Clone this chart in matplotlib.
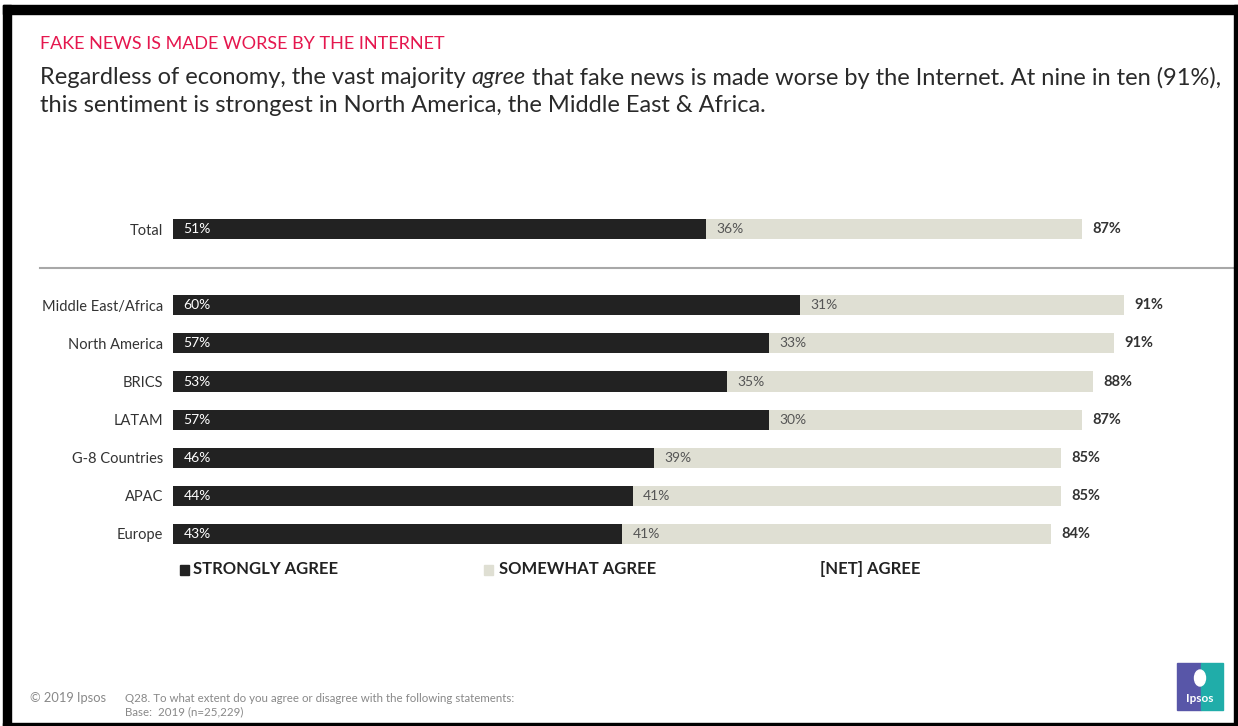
import matplotlib
matplotlib.use("Agg")
import matplotlib.pyplot as plt
import matplotlib.patches as patches
import matplotlib.transforms as mtransforms

W, H = 1238, 726

# survey results (% of respondents)
regions = ["Total", "Middle East/Africa", "North America", "BRICS", "LATAM",
           "G-8 Countries", "APAC", "Europe"]
strongly = [51, 60, 57, 53, 57, 46, 44, 43]
somewhat = [36, 31, 33, 35, 30, 39, 41, 41]
net_agree = [87, 91, 91, 88, 87, 85, 85, 84]
# Total sits apart from the regions, with a divider in the gap
positions = [0, 2, 3, 4, 5, 6, 7, 8]

DARK = "#222222"
LIGHT = "#DFDFD3"
RED = "#E5174E"
plt.rcParams["font.family"] = ["Lato", "DejaVu Sans"]


def fx(px):
    return px / W


def fy(py):
    return 1 - py / H


fig = plt.figure(figsize=(W / 100, H / 100), dpi=100)

# ── slide frame ──────────────────────────────────────────────────────────────
for x0, y0, x1, y1 in [(3, 5, 1238, 14), (3, 5, 11, 726), (1234, 5, 1238, 726),
                       (3, 723, 1238, 726)]:
    fig.patches.append(patches.Rectangle((fx(x0), fy(y1)), fx(x1 - x0), (y1 - y0) / H,
                                         transform=fig.transFigure, color="black", zorder=0))

# ── headings ─────────────────────────────────────────────────────────────────
fig.text(fx(40), fy(44), "FAKE NEWS IS MADE WORSE BY THE INTERNET", color=RED,
         fontsize=13, va="center", ha="left")

renderer = fig.canvas.get_renderer()
x = fx(40)
for part, style in [("Regardless of economy, the vast majority ", "normal"),
                    ("agree", "italic"),
                    (" that fake news is made worse by the Internet. At nine in ten (91%),", "normal")]:
    t = fig.text(x, fy(78), part, fontsize=17, style=style, color="#2A2A2A",
                 va="center", ha="left")
    bb = t.get_window_extent(renderer=renderer)
    x = bb.x1 / fig.bbox.width
fig.text(fx(40), fy(105), "this sentiment is strongest in North America, the Middle East & Africa.",
         fontsize=17, color="#2A2A2A", va="center", ha="left")

# ── stacked bars ─────────────────────────────────────────────────────────────
ax_top, ax_bot = 229 - 19, 534 + 19
ax = fig.add_axes([fx(173), fy(ax_bot), 1045 / W, (ax_bot - ax_top) / H])
ax.barh(positions, strongly, height=0.53, color=DARK, zorder=2)
ax.barh(positions, somewhat, left=strongly, height=0.53, color=LIGHT, zorder=2)
ax.set_xlim(0, 100)
ax.set_ylim(8.5, -0.5)
for s in ax.spines.values():
    s.set_visible(False)
ax.set_xticks([])
ax.set_yticks(positions)
ax.set_yticklabels(regions, fontsize=10.5, color="#333333")
ax.tick_params(axis="y", length=0, pad=7)

for p, s, m, n in zip(positions, strongly, somewhat, net_agree):
    ax.text(1, p, f"{s}%", color="white", fontsize=10, va="center", ha="left")
    ax.text(s + 1, p, f"{m}%", color="#555555", fontsize=10, va="center", ha="left")
    ax.text(s + m + 1.0, p, f"{n}%", color="#333333", fontsize=10.5, fontweight="bold",
            va="center", ha="left")

blend = mtransforms.blended_transform_factory(fig.transFigure, ax.transData)
ax.plot([fx(40), fx(1234)], [1.03, 1.03], transform=blend, color="#A8A8A8", lw=1.5,
        clip_on=False)

# ── legend ───────────────────────────────────────────────────────────────────
for sq_x, txt_x, color, label in [(180, 193, DARK, "STRONGLY AGREE"),
                                  (484, 499, LIGHT, "SOMEWHAT AGREE"),
                                  (None, 820, None, "[NET] AGREE")]:
    if sq_x is not None:
        fig.patches.append(patches.Rectangle((fx(sq_x), fy(575)), fx(9), 10 / H,
                                             transform=fig.transFigure, color=color))
    fig.text(fx(txt_x), fy(569), label, fontsize=12, fontweight="bold", color="#222222",
             va="center", ha="left")

# ── footer ───────────────────────────────────────────────────────────────────
fig.text(fx(30), fy(698), "\u00a9 2019 Ipsos", fontsize=9.3, color="#888888",
         va="center", ha="left")
fig.text(fx(125), fy(699), "Q28. To what extent do you agree or disagree with the following statements:",
         fontsize=8.3, color="#888888", va="center", ha="left")
fig.text(fx(125), fy(712), "Base:  2019 (n=25,229)", fontsize=8.3, color="#888888",
         va="center", ha="left")

# logo
fig.patches.append(patches.Rectangle((fx(1177), fy(710)), fx(24), 47 / H,
                                     transform=fig.transFigure, color="#5856A8"))
fig.patches.append(patches.Rectangle((fx(1201), fy(710)), fx(22), 47 / H,
                                     transform=fig.transFigure, color="#20ADA9"))
fig.patches.append(patches.Ellipse((fx(1200), fy(678)), fx(11), 16 / H,
                                   transform=fig.transFigure, color="white"))
fig.text(fx(1200), fy(698), "Ipsos", fontsize=8.5, fontweight="bold", color="white",
         va="center", ha="center")

fig.savefig("out.png", dpi=100)
